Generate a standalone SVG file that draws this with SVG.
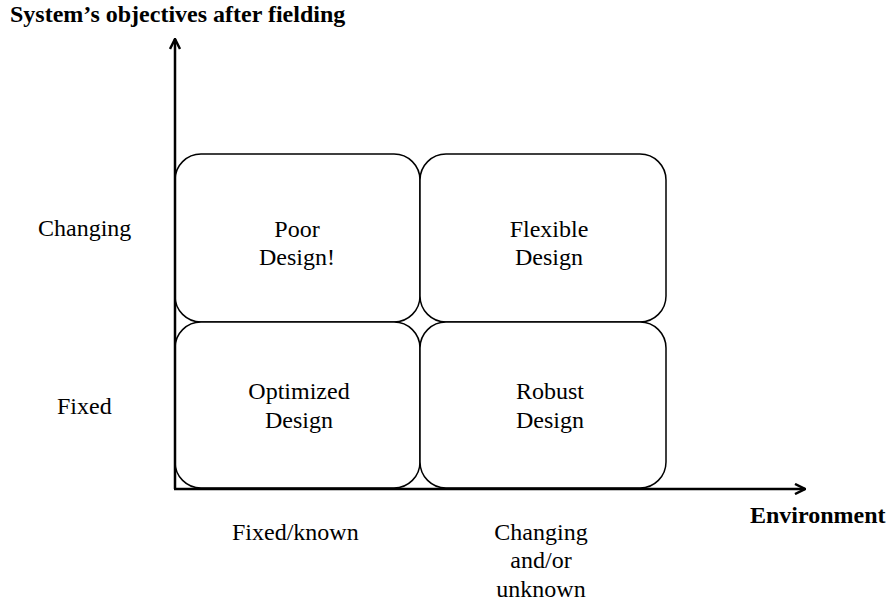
<svg xmlns="http://www.w3.org/2000/svg" width="887" height="603" viewBox="0 0 887 603">
<style>
text{font-family:"Liberation Serif","Times New Roman",serif;font-size:24px;fill:#000}
.b{font-weight:bold}
.c{text-anchor:middle}
.box{fill:#fff;stroke:#000;stroke-width:1.5}
.ax{stroke:#000;stroke-width:2.5;fill:none}
</style>
<defs>
<marker id="ah" viewBox="0 0 10 10" refX="9" refY="5" markerWidth="5" markerHeight="5" orient="auto" markerUnits="strokeWidth">
<path d="M1,1 L9,5 L1,9" fill="none" stroke="#000" stroke-width="2"/>
</marker>
</defs>
<rect width="887" height="603" fill="#fff"/>
<text class="b" x="10" y="22">System’s objectives after fielding</text>
<g id="n-poor"><rect class="box" x="175" y="154" width="245" height="168" rx="26"/><text class="c" x="297" y="237">Poor</text><text class="c" x="297" y="265">Design!</text></g>
<g id="n-flexible"><rect class="box" x="420" y="154" width="246" height="168" rx="26"/><text class="c" x="549" y="237">Flexible</text><text class="c" x="549" y="265">Design</text></g>
<g id="n-optimized"><rect class="box" x="175" y="322" width="245" height="166" rx="26"/><text class="c" x="299" y="399">Optimized</text><text class="c" x="299" y="428">Design</text></g>
<g id="n-robust"><rect class="box" x="420" y="322" width="246" height="166" rx="26"/><text class="c" x="550" y="399">Robust</text><text class="c" x="550" y="428">Design</text></g>
<g id="connectors">
<line class="ax" x1="175" y1="489" x2="175" y2="39" marker-end="url(#ah)"/>
<line class="ax" x1="174" y1="489" x2="805" y2="489" marker-end="url(#ah)"/>
</g>
<text x="38" y="236">Changing</text>
<text x="57" y="414">Fixed</text>
<text x="232" y="540">Fixed/known</text>
<text class="c" x="541" y="540">Changing</text>
<text class="c" x="541" y="568">and/or</text>
<text class="c" x="541" y="597">unknown</text>
<text class="b" x="750" y="523">Environment</text>
</svg>
